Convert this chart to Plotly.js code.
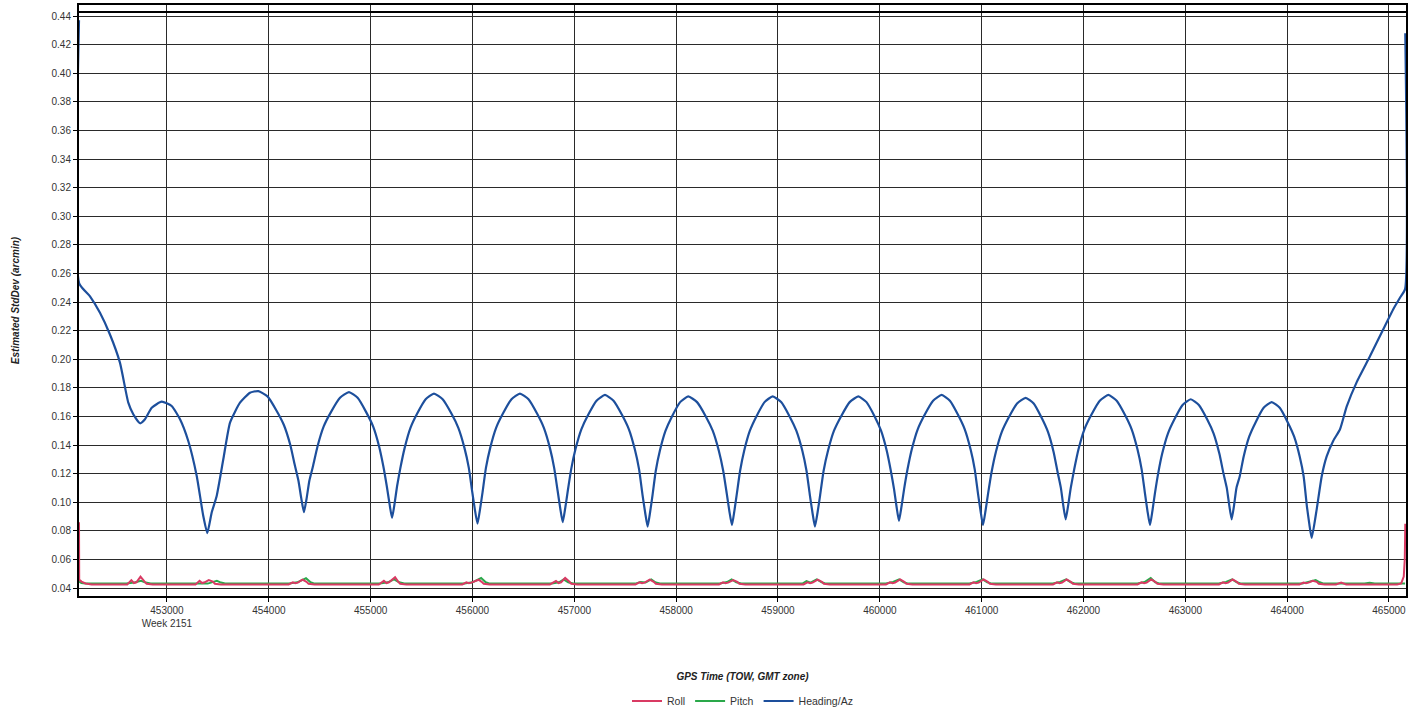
<!DOCTYPE html>
<html>
<head>
<meta charset="utf-8">
<script src="https://cdn.plot.ly/plotly-3.0.1.min.js"></script>
<style>
html,body{margin:0;padding:0;background:#fff;}
#chart{width:1423px;height:719px;}
</style>
</head>
<body>
<div id="chart"></div>
<script>
// ---- Data ----
const seriesNames = ["Roll", "Pitch", "Heading/Az"];

const headingX = [
452136,452138,452244,452342,452440,452538,452620,452669,452735,452784,452850,452948,453046,453128,453209,453292,453356,
453396,453439,453488,453553,453619,453717,453815,453897,
453987,454076,454148,454211,454255,454291,454318,454345,
454372,454398,454433,454478,454539,454610,454699,454787,
454872,454956,455024,455083,455125,455159,455185,455210,
455235,455259,455292,455334,455391,455457,455540,455622,
455707,455793,455861,455921,455964,455998,456023,456049,
456074,456099,456132,456174,456232,456299,456383,456466,
456550,456634,456701,456760,456802,456836,456861,456886,
456911,456936,456969,457011,457069,457135,457218,457301,
457385,457469,457536,457594,457636,457670,457695,457720,
457744,457768,457800,457840,457896,457959,458039,458119,
458205,458291,458359,458419,458462,458497,458522,458548,
458572,458596,458628,458668,458724,458788,458868,458948,
459031,459114,459180,459239,459280,459313,459338,459363,
459389,459414,459448,459491,459550,459619,459704,459789,
459869,459949,460012,460068,460108,460140,460164,460188,
460213,460238,460272,460314,460372,460439,460523,460607,
460688,460769,460834,460891,460932,460964,460989,461013,
461038,461063,461097,461139,461197,461264,461348,461432,
461511,461589,461652,461707,461746,461778,461801,461825,
461850,461875,461909,461951,462009,462076,462160,462244,
462326,462408,462473,462530,462571,462604,462628,462653,
462677,462701,462733,462773,462829,462893,462973,463053,
463133,463214,463278,463334,463375,463407,463431,463455,
463479,463502,463534,463573,463628,463691,463769,463848,
463927,464005,464068,464123,464162,464194,464217,464241,
464290,464339,464388,464453,464519,464585,464683,464813,464944,465042,465108,465158,465160
];
const headingY = [
0.437,0.253,0.244,0.2325,0.2173,0.1976,0.1696,0.1615,0.1552,0.158,0.1661,0.1703,0.1673,0.158,0.1428,0.1184,0.0905,
0.0784,0.0928,0.1044,0.130,0.1557,0.1696,0.1766,0.1777,
0.174,0.164,0.154,0.140,0.126,0.115,0.103,0.093,
0.103,0.115,0.125,0.139,0.153,0.163,0.173,0.177,
0.173,0.163,0.153,0.139,0.125,0.111,0.099,0.089,
0.099,0.111,0.124,0.138,0.152,0.162,0.172,0.176,
0.172,0.162,0.152,0.138,0.124,0.107,0.095,0.085,
0.095,0.107,0.124,0.138,0.152,0.162,0.172,0.176,
0.172,0.162,0.152,0.138,0.124,0.108,0.096,0.086,
0.096,0.108,0.123,0.137,0.151,0.161,0.171,0.175,
0.171,0.161,0.151,0.137,0.123,0.105,0.093,0.083,
0.093,0.105,0.122,0.136,0.150,0.160,0.170,0.174,
0.170,0.160,0.150,0.136,0.122,0.106,0.094,0.084,
0.094,0.106,0.122,0.136,0.150,0.160,0.170,0.174,
0.170,0.160,0.150,0.136,0.122,0.105,0.093,0.083,
0.093,0.105,0.122,0.136,0.150,0.160,0.170,0.174,
0.170,0.160,0.150,0.136,0.122,0.109,0.097,0.087,
0.097,0.109,0.123,0.137,0.151,0.161,0.171,0.175,
0.171,0.161,0.151,0.137,0.123,0.106,0.094,0.084,
0.094,0.106,0.121,0.135,0.149,0.159,0.169,0.173,
0.169,0.159,0.149,0.135,0.121,0.110,0.098,0.088,
0.098,0.110,0.123,0.137,0.151,0.161,0.171,0.175,
0.171,0.161,0.151,0.137,0.123,0.106,0.094,0.084,
0.094,0.106,0.120,0.134,0.148,0.158,0.168,0.172,
0.168,0.158,0.148,0.134,0.120,0.110,0.098,0.088,
0.098,0.110,0.118,0.132,0.146,0.156,0.166,0.170,
0.166,0.156,0.146,0.132,0.118,0.097,0.085,0.075,
0.095,0.118,0.132,0.143,0.151,0.167,0.184,0.202,0.221,0.235,0.243,0.249,0.428
];

const rollX = [
452136,452138,452160,452200,452260,
452610,452650,452675,452700,452740,452780,452800,452860,
453280,453320,453345,453370,453410,453450,453470,453530,
454195,454235,454260,454285,454330,454370,454390,454450,
455080,455130,455155,455180,455240,455270,455290,455350,
455900,455940,455965,455990,456060,456090,456110,456170,
456760,456820,456845,456870,456910,456950,456970,457030,
457600,457640,457665,457690,457740,457780,457800,457860,
458420,458460,458485,458510,458560,458600,458620,458680,
459250,459290,459315,459340,459390,459430,459450,459510,
460060,460100,460125,460150,460200,460240,460260,460320,
460880,460920,460945,460970,461020,461060,461080,461140,
461700,461740,461765,461790,461835,461875,461895,461955,
462530,462570,462595,462620,462665,462705,462725,462785,
463330,463370,463395,463420,463465,463505,463525,463585,
464120,464160,464185,464210,464250,464290,464310,464370,
464480,464530,464580,
465080,465120,465145,465155,465160
];
const rollY = [
0.086,0.046,0.0445,0.0432,0.0425,
0.0425,0.0455,0.0435,0.044,0.048,0.0445,0.043,0.0425,
0.0425,0.045,0.0435,0.044,0.0455,0.0445,0.043,0.0425,
0.0425,0.044,0.0433,0.0438,0.0458,0.0443,0.043,0.0425,
0.0425,0.045,0.0435,0.044,0.0475,0.0445,0.043,0.0425,
0.0425,0.044,0.0433,0.0438,0.0458,0.0443,0.043,0.0425,
0.0425,0.045,0.0435,0.044,0.047,0.0445,0.043,0.0425,
0.0425,0.044,0.0433,0.0438,0.0458,0.0443,0.043,0.0425,
0.0425,0.044,0.0433,0.0438,0.0455,0.0443,0.043,0.0425,
0.0425,0.044,0.0433,0.0438,0.0458,0.0443,0.043,0.0425,
0.0425,0.044,0.0433,0.0438,0.046,0.0443,0.043,0.0425,
0.0425,0.044,0.0433,0.0438,0.046,0.0443,0.043,0.0425,
0.0425,0.044,0.0433,0.0438,0.046,0.0443,0.043,0.0425,
0.0425,0.044,0.0433,0.0438,0.046,0.0443,0.043,0.0425,
0.0425,0.044,0.0433,0.0438,0.046,0.0443,0.043,0.0425,
0.0425,0.0438,0.0433,0.0438,0.045,0.0443,0.043,0.0425,
0.0425,0.0438,0.0425,
0.0425,0.0432,0.048,0.060,0.085
];

const pitchX = [
452136,452160,452200,
452600,452680,452745,452790,452840,
453400,453450,453490,453530,453570,
454200,454280,454365,454410,454450,
455090,455170,455230,455280,455330,
455920,456000,456085,456130,456170,
456780,456850,456895,456940,456990,
457600,457650,457700,457755,457800,457840,
458430,458500,458545,458590,458640,
459240,459280,459320,459380,459430,459470,
460060,460130,460190,460235,460280,
460880,460950,461010,461055,461100,
461700,461770,461830,461875,461920,
462530,462600,462660,462705,462750,
463330,463400,463460,463505,463550,
464150,464220,464280,464320,464360,
464760,464810,464860,
465158
];
const pitchY = [
0.0445,0.0435,0.0431,
0.0431,0.0438,0.045,0.0438,0.0431,
0.0431,0.044,0.045,0.0438,0.0431,
0.0431,0.044,0.0468,0.044,0.0431,
0.0431,0.044,0.046,0.044,0.0431,
0.0431,0.044,0.047,0.044,0.0431,
0.0431,0.044,0.046,0.044,0.0431,
0.0431,0.0442,0.0438,0.046,0.0438,0.0431,
0.0431,0.0442,0.046,0.044,0.0431,
0.0431,0.0448,0.0438,0.046,0.044,0.0431,
0.0431,0.0442,0.046,0.044,0.0431,
0.0431,0.0442,0.046,0.044,0.0431,
0.0431,0.0442,0.046,0.044,0.0431,
0.0431,0.0442,0.047,0.044,0.0431,
0.0431,0.0442,0.046,0.044,0.0431,
0.0431,0.0442,0.0456,0.044,0.0431,
0.0431,0.0437,0.0431,
0.0431
];

const xTickVals = [453000,454000,455000,456000,457000,458000,459000,460000,461000,462000,463000,464000,465000];
const xTickText = ["453000<br>Week 2151","454000","455000","456000","457000","458000","459000","460000","461000","462000","463000","464000","465000"];
const yTickVals = [0.04,0.06,0.08,0.10,0.12,0.14,0.16,0.18,0.20,0.22,0.24,0.26,0.28,0.30,0.32,0.34,0.36,0.38,0.40,0.42,0.44];
const yTickText = ["0.04","0.06","0.08","0.10","0.12","0.14","0.16","0.18","0.20","0.22","0.24","0.26","0.28","0.30","0.32","0.34","0.36","0.38","0.40","0.42","0.44"];

const xRange = [452136, 465167];
const yRange = [0.03442, 0.44770];

// ---- Chart ----
const FONT = "Liberation Sans, Arial, sans-serif";
const traces = [
  {x: pitchX, y: pitchY, name: seriesNames[1], type: "scatter", mode: "lines",
   line: {color: "#2aa84a", width: 2}, legendrank: 2},
  {x: rollX, y: rollY, name: seriesNames[0], type: "scatter", mode: "lines",
   line: {color: "#d93a63", width: 2}, legendrank: 1},
  {x: headingX, y: headingY, name: seriesNames[2], type: "scatter", mode: "lines",
   line: {color: "#1d4f9c", width: 2.2, shape: "spline", smoothing: 0.5}, legendrank: 3}
];

const layout = {
  width: 1423, height: 719,
  margin: {l: 79, r: 17, t: 5, b: 122},
  paper_bgcolor: "#ffffff", plot_bgcolor: "#ffffff",
  font: {family: FONT, size: 10, color: "#333333"},
  showlegend: true,
  legend: {orientation: "h", x: 0.5, xanchor: "center", y: -0.1757, yanchor: "middle",
           font: {family: FONT, size: 10.5, color: "#333333"}, itemwidth: 30, traceorder: "normal"},
  xaxis: {
    range: xRange, tickmode: "array", tickvals: xTickVals, ticktext: xTickText,
    showgrid: true, gridcolor: "#2a2a2a", gridwidth: 1,
    showline: true, linecolor: "#000000", linewidth: 2, mirror: true,
    ticks: "outside", ticklen: 4, tickcolor: "#000000",
    zeroline: false, layer: "below traces",
    tickfont: {family: FONT, size: 10, color: "#333333"},
    title: {text: "GPS Time (TOW, GMT zone)", standoff: 45,
            font: {family: FONT, size: 10, color: "#222222", weight: "bold", style: "italic"}},
    automargin: false
  },
  yaxis: {
    range: yRange, tickmode: "array", tickvals: yTickVals, ticktext: yTickText,
    showgrid: true, gridcolor: "#2a2a2a", gridwidth: 1,
    showline: true, linecolor: "#000000", linewidth: 2, mirror: true,
    ticks: "outside", ticklen: 4, tickcolor: "#000000",
    zeroline: false, layer: "below traces",
    tickfont: {family: FONT, size: 10, color: "#333333"},
    title: {text: "Estimated StdDev (arcmin)", standoff: 30,
            font: {family: FONT, size: 10, color: "#222222", weight: "bold", style: "italic"}},
    automargin: false
  },
  shapes: [
    {type: "line", xref: "paper", yref: "y", x0: 0, x1: 1, y0: 0.4428, y1: 0.4428,
     line: {color: "#000000", width: 2}}
  ]
};

Plotly.newPlot("chart", traces, layout, {displayModeBar: false, staticPlot: true});
</script>
</body>
</html>
